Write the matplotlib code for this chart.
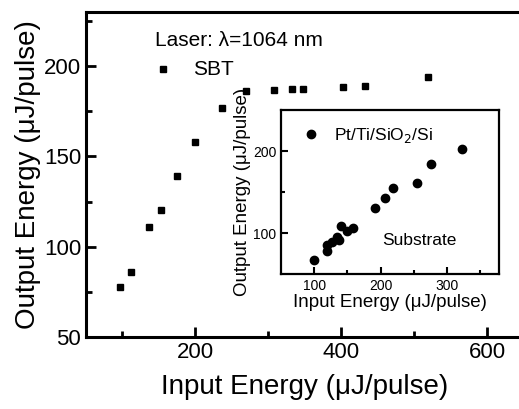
import matplotlib
matplotlib.use("Agg")
import matplotlib.pyplot as plt

plt.rcParams['font.family'] = ['Liberation Sans', 'DejaVu Sans']

# SBT film (main panel)
sbt_in = [97, 112, 137, 153, 175, 199, 237, 269, 308, 332, 348, 402, 432, 519]
sbt_out = [77.5, 86, 111, 120.5, 139, 158, 177, 186, 187, 187.5, 187.5, 188.5, 189, 194]

# Pt/Ti/SiO2/Si substrate (inset)
sub_in = [100, 119, 119, 127, 134, 137, 140, 149, 158, 191, 206, 218, 254, 275, 322]
sub_out = [67.5, 77.5, 86, 89, 95, 91, 108.5, 102.5, 106, 130, 142.5, 155, 161, 184, 202.5]

fig = plt.figure(figsize=(5.19, 4.09), dpi=100)
ax = fig.add_axes([0.1657, 0.176, 0.843, 0.795])
ax.plot(sbt_in, sbt_out, 's', color='black', ms=5)
ax.set_xlim(50, 650)
ax.set_ylim(50, 230)
ax.set_xticks([200, 400, 600])
ax.set_xticks([100, 300, 500], minor=True)
ax.set_yticks([50, 100, 150, 200])
ax.set_yticks([75, 125, 175, 225], minor=True)
ax.tick_params(which='both', direction='in', labelsize=16, width=2)
ax.tick_params(which='major', length=7)
ax.tick_params(which='minor', length=4)
for s in ax.spines.values():
    s.set_linewidth(2.2)
ax.set_xlabel(u'Input Energy (\u03bcJ/pulse)', fontsize=20, labelpad=8)
ax.set_ylabel(u'Output Energy (\u03bcJ/pulse)', fontsize=20, labelpad=2)
ax.text(145, 214, u'Laser: \u03bb=1064 nm', fontsize=15, va='center')
ax.plot([155], [198.3], 's', color='black', ms=5)
ax.text(197, 198.3, 'SBT', fontsize=15, va='center')

ins = fig.add_axes([0.5414, 0.330, 0.420, 0.401])
ins.plot(sub_in, sub_out, 'o', color='black', ms=6)
ins.set_xlim(50, 378)
ins.set_ylim(50, 250)
ins.set_xticks([100, 200, 300])
ins.set_xticks([150, 250, 350], minor=True)
ins.set_yticks([100, 200])
ins.set_yticks([150], minor=True)
ins.tick_params(which='both', direction='in', labelsize=10, width=1.5)
ins.tick_params(which='major', length=5)
ins.tick_params(which='minor', length=3)
for s in ins.spines.values():
    s.set_linewidth(1.6)
ins.set_xlabel(u'Input Energy (\u03bcJ/pulse)', fontsize=13.5, labelpad=1)
ins.set_ylabel(u'Output Energy (\u03bcJ/pulse)', fontsize=13.5, labelpad=1)
ins.plot([95.5], [221], 'o', color='black', ms=6)
ins.text(130, 219, 'Pt/Ti/SiO$_2$/Si', fontsize=12.5, va='center')
ins.text(203, 91, 'Substrate', fontsize=12.5, va='center')

plt.savefig("out.png", dpi=100)
